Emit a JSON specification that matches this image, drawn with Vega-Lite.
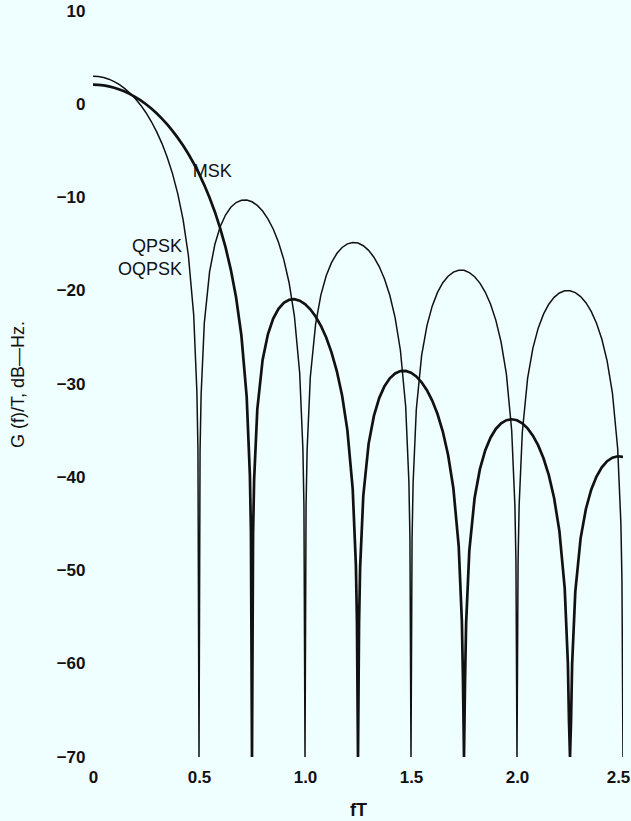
{
  "$schema": "https://vega.github.io/schema/vega-lite/v6.json",
  "width": 530,
  "height": 746,
  "autosize": "none",
  "padding": {"left": 93, "top": 11, "right": 8, "bottom": 64},
  "background": "#effefe",
  "config": {"view": {"stroke": null}, "font": "Liberation Sans"},
  "datasets": {
    "qpsk": [
      {"f": 0, "db": 3.01}, {"f": 0.025, "db": 2.97}, {"f": 0.05, "db": 2.87}, {"f": 0.075, "db": 2.69},
      {"f": 0.1, "db": 2.43}, {"f": 0.125, "db": 2.10}, {"f": 0.15, "db": 1.68}, {"f": 0.175, "db": 1.18},
      {"f": 0.2, "db": 0.59}, {"f": 0.225, "db": -0.10}, {"f": 0.25, "db": -0.91}, {"f": 0.275, "db": -1.85},
      {"f": 0.3, "db": -2.93}, {"f": 0.325, "db": -4.19}, {"f": 0.35, "db": -5.68}, {"f": 0.375, "db": -7.44},
      {"f": 0.4, "db": -9.61}, {"f": 0.425, "db": -12.38}, {"f": 0.45, "db": -16.22}, {"f": 0.475, "db": -22.60},
      {"f": 0.49, "db": -30.80}, {"f": 0.495, "db": -36.90}, {"f": 0.5, "db": -70}, {"f": 0.505, "db": -37.08},
      {"f": 0.51, "db": -31.15}, {"f": 0.525, "db": -23.47}, {"f": 0.55, "db": -17.96}, {"f": 0.575, "db": -15.01},
      {"f": 0.6, "db": -13.13}, {"f": 0.625, "db": -11.88}, {"f": 0.65, "db": -11.05}, {"f": 0.675, "db": -10.54},
      {"f": 0.7, "db": -10.29}, {"f": 0.725, "db": -10.27}, {"f": 0.75, "db": -10.46}, {"f": 0.775, "db": -10.85},
      {"f": 0.8, "db": -11.45}, {"f": 0.825, "db": -12.29}, {"f": 0.85, "db": -13.38}, {"f": 0.875, "db": -14.80},
      {"f": 0.9, "db": -16.66}, {"f": 0.925, "db": -19.14}, {"f": 0.95, "db": -22.71}, {"f": 0.975, "db": -28.85},
      {"f": 0.99, "db": -36.91}, {"f": 0.995, "db": -42.97}, {"f": 1.0, "db": -70}, {"f": 1.005, "db": -43.06},
      {"f": 1.01, "db": -37.08}, {"f": 1.025, "db": -29.28}, {"f": 1.05, "db": -23.58}, {"f": 1.075, "db": -20.44},
      {"f": 1.1, "db": -18.40}, {"f": 1.125, "db": -16.99}, {"f": 1.15, "db": -16.01}, {"f": 1.175, "db": -15.36},
      {"f": 1.2, "db": -14.97}, {"f": 1.225, "db": -14.82}, {"f": 1.25, "db": -14.89}, {"f": 1.275, "db": -15.17},
      {"f": 1.3, "db": -15.67}, {"f": 1.325, "db": -16.40}, {"f": 1.35, "db": -17.40}, {"f": 1.375, "db": -18.73},
      {"f": 1.4, "db": -20.49}, {"f": 1.425, "db": -22.89}, {"f": 1.45, "db": -26.38}, {"f": 1.475, "db": -32.44},
      {"f": 1.49, "db": -40.46}, {"f": 1.495, "db": -46.50}, {"f": 1.5, "db": -70}, {"f": 1.505, "db": -46.56},
      {"f": 1.51, "db": -40.58}, {"f": 1.525, "db": -32.73}, {"f": 1.55, "db": -26.96}, {"f": 1.575, "db": -23.76},
      {"f": 1.6, "db": -21.65}, {"f": 1.625, "db": -20.18}, {"f": 1.65, "db": -19.14}, {"f": 1.675, "db": -18.44},
      {"f": 1.7, "db": -18.00}, {"f": 1.725, "db": -17.80}, {"f": 1.75, "db": -17.81}, {"f": 1.775, "db": -18.05},
      {"f": 1.8, "db": -18.50}, {"f": 1.825, "db": -19.18}, {"f": 1.85, "db": -20.14}, {"f": 1.875, "db": -21.42},
      {"f": 1.9, "db": -23.15}, {"f": 1.925, "db": -25.50}, {"f": 1.95, "db": -28.95}, {"f": 1.975, "db": -34.98},
      {"f": 1.99, "db": -42.97}, {"f": 1.995, "db": -49.01}, {"f": 2.0, "db": -70}, {"f": 2.005, "db": -49.05},
      {"f": 2.01, "db": -43.06}, {"f": 2.025, "db": -35.20}, {"f": 2.05, "db": -29.39}, {"f": 2.075, "db": -26.15},
      {"f": 2.1, "db": -24.01}, {"f": 2.125, "db": -22.51}, {"f": 2.15, "db": -21.44}, {"f": 2.175, "db": -20.71},
      {"f": 2.2, "db": -20.24}, {"f": 2.225, "db": -20.01}, {"f": 2.25, "db": -20.00}, {"f": 2.275, "db": -20.20},
      {"f": 2.3, "db": -20.62}, {"f": 2.325, "db": -21.28}, {"f": 2.35, "db": -22.22}, {"f": 2.375, "db": -23.48},
      {"f": 2.4, "db": -25.17}, {"f": 2.425, "db": -27.51}, {"f": 2.45, "db": -30.94}, {"f": 2.475, "db": -36.94},
      {"f": 2.49, "db": -44.92}, {"f": 2.495, "db": -50.95}, {"f": 2.5, "db": -70}
    ],
    "msk": [
      {"f": 0, "db": 2.10}, {"f": 0.025, "db": 2.08}, {"f": 0.05, "db": 2.02}, {"f": 0.075, "db": 1.92},
      {"f": 0.1, "db": 1.77}, {"f": 0.125, "db": 1.59}, {"f": 0.15, "db": 1.36}, {"f": 0.175, "db": 1.09},
      {"f": 0.2, "db": 0.77}, {"f": 0.225, "db": 0.41}, {"f": 0.25, "db": 0.00}, {"f": 0.275, "db": -0.46},
      {"f": 0.3, "db": -0.97}, {"f": 0.325, "db": -1.54}, {"f": 0.35, "db": -2.16}, {"f": 0.375, "db": -2.85},
      {"f": 0.4, "db": -3.61}, {"f": 0.425, "db": -4.43}, {"f": 0.45, "db": -5.34}, {"f": 0.475, "db": -6.34},
      {"f": 0.5, "db": -7.44}, {"f": 0.525, "db": -8.67}, {"f": 0.55, "db": -10.03}, {"f": 0.575, "db": -11.55},
      {"f": 0.6, "db": -13.30}, {"f": 0.625, "db": -15.32}, {"f": 0.65, "db": -17.73}, {"f": 0.675, "db": -20.73},
      {"f": 0.7, "db": -24.80}, {"f": 0.725, "db": -31.41}, {"f": 0.74, "db": -39.74}, {"f": 0.745, "db": -45.89},
      {"f": 0.75, "db": -70}, {"f": 0.755, "db": -46.15}, {"f": 0.76, "db": -40.26}, {"f": 0.775, "db": -32.72},
      {"f": 0.8, "db": -27.42}, {"f": 0.825, "db": -24.67}, {"f": 0.85, "db": -22.99}, {"f": 0.875, "db": -21.94},
      {"f": 0.9, "db": -21.30}, {"f": 0.925, "db": -20.97}, {"f": 0.95, "db": -20.91}, {"f": 0.975, "db": -21.06},
      {"f": 1.0, "db": -21.42}, {"f": 1.025, "db": -21.99}, {"f": 1.05, "db": -22.76}, {"f": 1.075, "db": -23.76},
      {"f": 1.1, "db": -25.02}, {"f": 1.125, "db": -26.60}, {"f": 1.15, "db": -28.61}, {"f": 1.175, "db": -31.24},
      {"f": 1.2, "db": -34.97}, {"f": 1.225, "db": -41.25}, {"f": 1.24, "db": -49.40}, {"f": 1.245, "db": -55.49},
      {"f": 1.25, "db": -70}, {"f": 1.255, "db": -55.64}, {"f": 1.26, "db": -49.69}, {"f": 1.275, "db": -41.98},
      {"f": 1.3, "db": -36.42}, {"f": 1.325, "db": -33.42}, {"f": 1.35, "db": -31.51}, {"f": 1.375, "db": -30.24},
      {"f": 1.4, "db": -29.39}, {"f": 1.425, "db": -28.87}, {"f": 1.45, "db": -28.61}, {"f": 1.475, "db": -28.59},
      {"f": 1.5, "db": -28.78}, {"f": 1.525, "db": -29.19}, {"f": 1.55, "db": -29.81}, {"f": 1.575, "db": -30.66},
      {"f": 1.6, "db": -31.78}, {"f": 1.625, "db": -33.22}, {"f": 1.65, "db": -35.10}, {"f": 1.675, "db": -37.61},
      {"f": 1.7, "db": -41.21}, {"f": 1.725, "db": -47.39}, {"f": 1.74, "db": -55.47}, {"f": 1.745, "db": -61.53},
      {"f": 1.75, "db": -70}, {"f": 1.755, "db": -61.64}, {"f": 1.76, "db": -55.67}, {"f": 1.775, "db": -47.89},
      {"f": 1.8, "db": -42.23}, {"f": 1.825, "db": -39.13}, {"f": 1.85, "db": -37.13}, {"f": 1.875, "db": -35.76},
      {"f": 1.9, "db": -34.82}, {"f": 1.925, "db": -34.22}, {"f": 1.95, "db": -33.88}, {"f": 1.975, "db": -33.78},
      {"f": 2.0, "db": -33.89}, {"f": 2.025, "db": -34.22}, {"f": 2.05, "db": -34.76}, {"f": 2.075, "db": -35.54},
      {"f": 2.1, "db": -36.59}, {"f": 2.125, "db": -37.97}, {"f": 2.15, "db": -39.78}, {"f": 2.175, "db": -42.23},
      {"f": 2.2, "db": -45.77}, {"f": 2.225, "db": -51.88}, {"f": 2.24, "db": -59.93}, {"f": 2.245, "db": -65.98},
      {"f": 2.25, "db": -70}, {"f": 2.255, "db": -66.06}, {"f": 2.26, "db": -60.08}, {"f": 2.275, "db": -52.27},
      {"f": 2.3, "db": -46.55}, {"f": 2.325, "db": -43.40}, {"f": 2.35, "db": -41.34}, {"f": 2.375, "db": -39.92},
      {"f": 2.4, "db": -38.94}, {"f": 2.425, "db": -38.28}, {"f": 2.45, "db": -37.90}, {"f": 2.475, "db": -37.75},
      {"f": 2.5, "db": -37.82}
    ],
    "labels": [
      {"f": 0.655, "db": -7.3, "label": "MSK"},
      {"f": 0.42, "db": -15.3, "label": "QPSK"},
      {"f": 0.42, "db": -17.8, "label": "OQPSK"}
    ]
  },
  "layer": [
    {
      "data": {"name": "qpsk"},
      "mark": {"type": "line", "color": "#111111", "strokeWidth": 1.5, "clip": true},
      "encoding": {
        "x": {
          "field": "f", "type": "quantitative",
          "scale": {"domain": [0, 2.5], "nice": false, "zero": false},
          "axis": {
            "values": [0, 0.5, 1, 1.5, 2, 2.5],
            "labelExpr": "datum.value == 0 ? '0' : format(datum.value, '.1f')",
            "domain": false, "ticks": false, "grid": false,
            "labelFlush": false, "labelBound": false, "labelOverlap": false,
            "labelFontSize": 17, "labelFontWeight": "bold", "labelColor": "#111111",
            "labelPadding": 12,
            "labelOffset": {"condition": {"test": "datum.value == 2.5", "value": -5}, "value": 0},
            "title": "fT", "titleFontSize": 18, "titleFontWeight": "bold", "titleColor": "#111111",
            "titleX": 265, "titleY": 53, "titleBaseline": "middle", "titleAlign": "center"
          }
        },
        "y": {
          "field": "db", "type": "quantitative",
          "scale": {"domain": [-70, 10], "nice": false, "zero": false},
          "axis": {
            "values": [-70, -60, -50, -40, -30, -20, -10, 0, 10],
            "format": "d",
            "domain": false, "ticks": false, "grid": false,
            "labelFlush": false, "labelBound": false, "labelOverlap": false,
            "labelFontSize": 17, "labelFontWeight": "bold", "labelColor": "#111111",
            "labelPadding": 8,
            "title": "G (f)/T, dB—Hz.", "titleFontSize": 18, "titleFontWeight": "normal", "titleColor": "#111111",
            "titleAngle": -90, "titleX": -75, "titleY": 373, "titleBaseline": "middle", "titleAlign": "center"
          }
        }
      }
    },
    {
      "data": {"name": "msk"},
      "mark": {"type": "line", "color": "#111111", "strokeWidth": 2.7, "clip": true},
      "encoding": {
        "x": {"field": "f", "type": "quantitative"},
        "y": {"field": "db", "type": "quantitative"}
      }
    },
    {
      "data": {"name": "labels"},
      "mark": {"type": "text", "align": "right", "baseline": "middle", "fontSize": 18, "font": "Liberation Sans", "color": "#111111"},
      "encoding": {
        "x": {"field": "f", "type": "quantitative"},
        "y": {"field": "db", "type": "quantitative"},
        "text": {"field": "label", "type": "nominal"}
      }
    }
  ]
}
